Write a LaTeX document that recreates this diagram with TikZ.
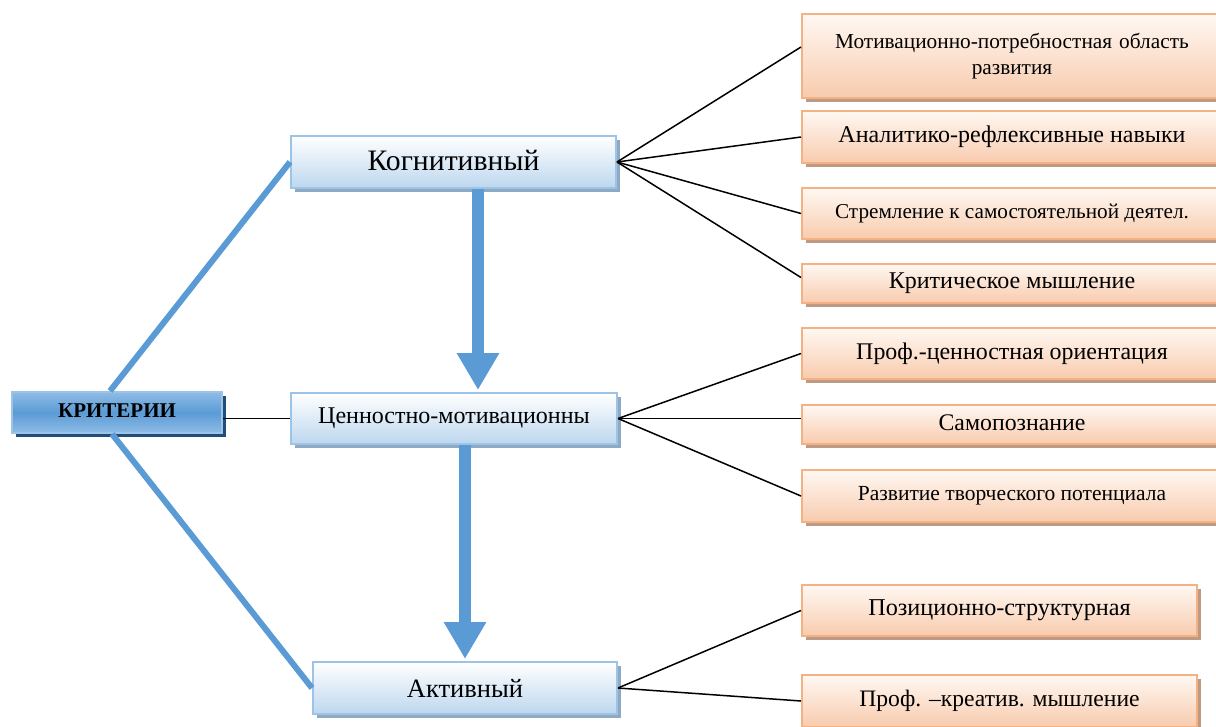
\documentclass[tikz,border=0pt]{standalone}
\usepackage{fontspec}
\setmainfont{Liberation Serif}
\usetikzlibrary{shadows,arrows.meta}
\definecolor{lineblue}{HTML}{5B9BD5}
\definecolor{bborder}{HTML}{9DC3E6}
\definecolor{bbottom}{HTML}{BDD7EE}
\definecolor{bshadow}{HTML}{8DA9C4}
\definecolor{oborder}{HTML}{F4B183}
\definecolor{otop}{HTML}{FFF8F3}
\definecolor{obottom}{HTML}{F8CBAD}
\definecolor{oshadow}{HTML}{BC9A84}
\definecolor{kshadow}{HTML}{1F4E79}
\definecolor{kmid}{HTML}{5B9BD5}
\definecolor{kedge}{HTML}{8FBCE6}
\definecolor{kborder}{HTML}{9DC3E6}
\newcommand{\fs}[1]{\fontsize{#1}{#1}\selectfont}
\begin{document}
\begin{tikzpicture}[x=1pt,y=-1pt,
  bluebox/.style={draw=bborder, line width=2pt, top color=white, bottom color=bbottom,
    general shadow={fill=bshadow, shadow xshift=4pt, shadow yshift=-4pt},
    inner sep=0pt, anchor=center, text=black},
  orbox/.style={draw=oborder, line width=2pt, top color=otop, bottom color=obottom,
    general shadow={fill=oshadow, shadow xshift=4pt, shadow yshift=-4pt},
    inner sep=0pt, anchor=center, text=black},
  critbox/.style={draw=kborder, line width=2pt, top color=kedge, bottom color=kedge, middle color=kmid,
    general shadow={fill=kshadow, shadow xshift=4pt, shadow yshift=-4pt},
    inner sep=0pt, anchor=center, text=black, font=\fs{21}\bfseries},
  thinline/.style={draw=black, line width=1.5pt},
  blueline/.style={draw=lineblue, line width=6pt},
  bigarrow/.style={draw=lineblue, line width=12pt, -{Triangle[width=40pt,length=37pt]}}
]
\useasboundingbox (0,0) rectangle (1216,726);
\clip (0,0) rectangle (1216,726);

% right-hand boxes
\node[orbox, minimum width=420pt, minimum height=84pt, text width=410pt, align=center, font=\fs{21.3}]
  (b1) at (1012,56) {Мотивационно-потребностная область\\[4pt]развития};
\node[orbox, minimum width=420pt, minimum height=52pt, font=\fs{24}] (b2) at (1012,137) {\raisebox{-2pt}{Аналитико-рефлексивные навыки}};
\node[orbox, minimum width=420pt, minimum height=51pt, font=\fs{21.2}] (b3) at (1012,213.5) {Стремление к самостоятельной деятел.};
\node[orbox, minimum width=420pt, minimum height=39pt, font=\fs{24}] (b4) at (1012,283.5) {\raisebox{2pt}{Критическое мышление}};
\node[orbox, minimum width=420pt, minimum height=51pt, font=\fs{23.9}] (b5) at (1012,353.5) {Проф.-ценностная ориентация};
\node[orbox, minimum width=420pt, minimum height=39pt, font=\fs{23.8}] (b6) at (1012,424.5) {\raisebox{3pt}{Самопознание}};
\node[orbox, minimum width=420pt, minimum height=52pt, font=\fs{21.5}] (b7) at (1012,496) {Развитие творческого потенциала};
\node[orbox, minimum width=395pt, minimum height=51pt, font=\fs{24.2}] (b8) at (999.5,610.5) {Позиционно-структурная};
\node[orbox, minimum width=395pt, minimum height=52pt, font=\fs{23.6}] (b9) at (999.5,701) {Проф. –креатив. мышление};

% middle boxes
\node[bluebox, minimum width=325pt, minimum height=52pt, font=\fs{29.7}] (kog) at (453.5,162) {\raisebox{4pt}{Когнитивный}};
\node[bluebox, minimum width=326pt, minimum height=51pt, font=\fs{24}] (cen) at (454,418.5) {Ценностно-мотивационны};
\node[bluebox, minimum width=304pt, minimum height=52pt, font=\fs{26.5}] (akt) at (465,688) {Активный};

% left box
\node[critbox, minimum width=210pt, minimum height=41pt] (crit) at (117,412.5) {\raisebox{3pt}{КРИТЕРИИ}};

% connectors
\draw[thinline] (kog.east) -- ([yshift=9pt]b1.west);
\draw[thinline] (kog.east) -- (b2.west);
\draw[thinline] (kog.east) -- (b3.west);
\draw[thinline] (kog.east) -- ([yshift=6pt]b4.west);
\draw[thinline] (cen.east) -- (b5.west);
\draw[thinline] (cen.east) -- ([yshift=6pt]b6.west);
\draw[thinline] (cen.east) -- (b7.west);
\draw[thinline] (akt.east) -- (b8.west);
\draw[thinline] (akt.east) -- (b9.west);
\draw[thinline] (crit.east |- cen.west) -- (cen.west);

\draw[blueline] ([xshift=-7pt]crit.north) -- (kog.west);
\draw[blueline] ([xshift=-5pt]crit.south) -- (akt.west);

\coordinate (a1) at (478,0);
\coordinate (a2) at (465,0);
\draw[bigarrow] (kog.south -| a1) -- ([yshift=2pt]cen.north -| a1);
\draw[bigarrow] (cen.south -| a2) -- ([yshift=2pt]akt.north -| a2);
\end{tikzpicture}
\end{document}
